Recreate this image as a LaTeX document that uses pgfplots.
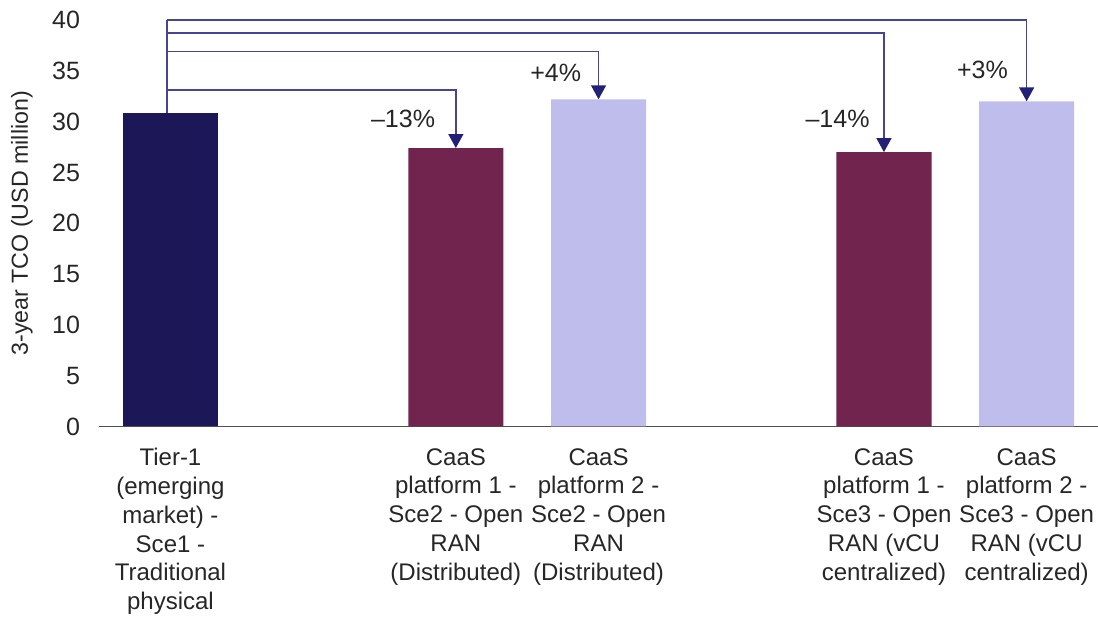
\documentclass[border=0pt]{standalone}
\usepackage{fontspec}
\setmainfont{Liberation Sans}
\usepackage{pgfplots}
\pgfplotsset{compat=1.18}
\usetikzlibrary{arrows.meta}

\definecolor{tiernavy}{RGB}{28,24,88}
\definecolor{platmaroon}{RGB}{112,36,78}
\definecolor{platlav}{RGB}{190,189,235}
\definecolor{linkline}{RGB}{70,68,150}
\definecolor{linktip}{RGB}{35,32,120}
\definecolor{axisgray}{RGB}{80,80,80}

\tikzset{
  link/.style={draw=linkline, line width=0.75pt},
  linkarrow/.style={link, -{Triangle[width=7.5pt,length=7pt,fill=linktip,color=linktip]}},
  pct/.style={font=\fontsize{12.5}{15}\selectfont, text=black!85},
}

\begin{document}
\begin{tikzpicture}
\begin{axis}[
  scale only axis,
  width=499pt, height=203pt,
  xmin=-0.5, xmax=6.5,
  ymin=0, ymax=40,
  clip=false,
  ybar, bar width=47.5pt, bar shift=0pt,
  axis lines*=left,
  y axis line style={draw=none},
  x axis line style={draw=axisgray, line width=0.8pt},
  major tick length=0pt,
  xtick={0,2,3,5,6},
  xticklabels={
    {Tier-1\\(emerging\\market) -\\Sce1 -\\Traditional\\physical},
    {CaaS\\platform 1 -\\Sce2 - Open\\RAN\\(Distributed)},
    {CaaS\\platform 2 -\\Sce2 - Open\\RAN\\(Distributed)},
    {CaaS\\platform 1 -\\Sce3 - Open\\RAN (vCU\\centralized)},
    {CaaS\\platform 2 -\\Sce3 - Open\\RAN (vCU\\centralized)}},
  xticklabel style={align=center, font=\fontsize{12}{14.35}\selectfont,
    text=black!85, anchor=north, yshift=-7.5pt},
  ytick={0,5,...,40},
  yticklabel style={font=\fontsize{12.5}{15}\selectfont, text=black!85, xshift=-6pt},
  /pgf/number format/assume math mode=true,
  ylabel={3-year TCO (USD million)},
  ylabel style={at={(axis description cs:-0.0772,0.5)}, anchor=center,
    font=\fontsize{11.6}{14}\selectfont, text=black!85},
]
% Traditional physical baseline
\addplot[fill=tiernavy, draw=none] coordinates {(0,30.8)};
% CaaS platform 1
\addplot[fill=platmaroon, draw=none] coordinates {(2,27.4) (5,27.0)};
% CaaS platform 2
\addplot[fill=platlav, draw=none] coordinates {(3,32.2) (6,32.0)};

% comparison links from the baseline bar
\draw[link] (axis cs:-0.025,30.8) -- (axis cs:-0.025,40);
\draw[linkarrow] (axis cs:-0.025,33.1) -| (axis cs:2,27.4);
\draw[linkarrow] (axis cs:-0.025,36.9) -| (axis cs:3,32.2);
\draw[linkarrow] (axis cs:-0.025,38.7) -| (axis cs:5,27.0);
\draw[linkarrow] (axis cs:-0.025,40) -| (axis cs:6,32.0);

\node[pct] at (axis cs:1.63,30.3) {–13\%};
\node[pct] at (axis cs:2.70,34.8) {+4\%};
\node[pct] at (axis cs:4.675,30.3) {–14\%};
\node[pct] at (axis cs:5.69,35.1) {+3\%};

\coordinate (SW) at (rel axis cs:0,0);
\coordinate (NE) at (rel axis cs:1,1);
\end{axis}
\pgfresetboundingbox
\path[use as bounding box] ([xshift=-49.5pt,yshift=-100pt]SW) rectangle ([yshift=10pt]NE);
\end{tikzpicture}
\end{document}
